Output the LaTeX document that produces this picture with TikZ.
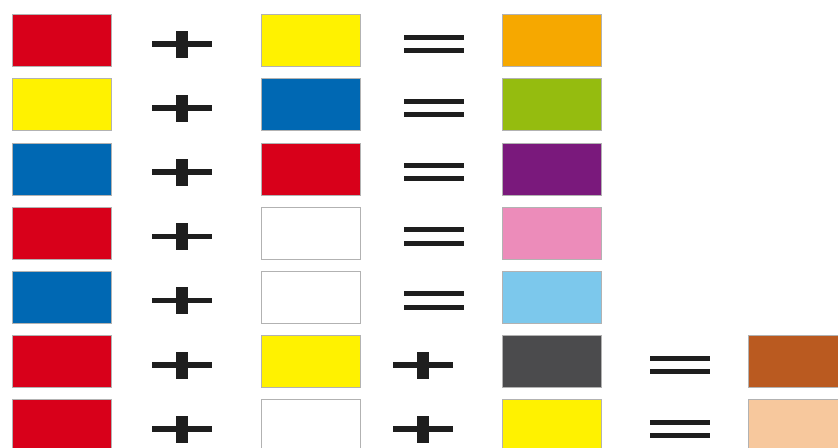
\documentclass[tikz,border=0pt]{standalone}
\usepackage{tikz}
\definecolor{mixred}{HTML}{D8001A}
\definecolor{mixyellow}{HTML}{FFF200}
\definecolor{mixblue}{HTML}{0068B3}
\definecolor{mixorange}{HTML}{F6A800}
\definecolor{mixgreen}{HTML}{95BC0F}
\definecolor{mixpurple}{HTML}{7A197C}
\definecolor{mixpink}{HTML}{EC8CBA}
\definecolor{mixsky}{HTML}{7CC8EC}
\definecolor{mixgray}{HTML}{4B4B4D}
\definecolor{mixbrown}{HTML}{BA5A20}
\definecolor{mixpeach}{HTML}{F7C89D}
\definecolor{signink}{HTML}{1E1E1E}

\begin{document}
\begin{tikzpicture}[x=0.03cm,y=-0.03cm,
  swatch/.style={rectangle,inner sep=0pt,minimum width=2.97cm,minimum height=1.56cm,draw=black!30,line width=0.5pt},
  plussign/.pic={
    \fill[signink] (-30,0.5) rectangle (30,6);
    \fill[signink] (-6,-10) rectangle (6,17);
  },
  equalsign/.pic={
    \fill[signink] (-30,-6) rectangle (30,-1);
    \fill[signink] (-30,7.5) rectangle (30,12.5);
  }]
  \useasboundingbox (0,0) rectangle (838,448);
  % row 1: red + yellow = orange
  \node[swatch,fill=mixred] (a1) at (62,40.5) {};
  \pic at (182,40.5) {plussign};
  \node[swatch,fill=mixyellow] (b1) at (311,40.5) {};
  \pic at (433.5,40.5) {equalsign};
  \node[swatch,fill=mixorange] (c1) at (552,40.5) {};
  % row 2: yellow + blue = green
  \node[swatch,fill=mixyellow] (a2) at (62,104.7) {};
  \pic at (182,104.7) {plussign};
  \node[swatch,fill=mixblue] (b2) at (311,104.7) {};
  \pic at (433.5,104.7) {equalsign};
  \node[swatch,fill=mixgreen] (c2) at (552,104.7) {};
  % row 3: blue + red = purple
  \node[swatch,fill=mixblue] (a3) at (62,168.9) {};
  \pic at (182,168.9) {plussign};
  \node[swatch,fill=mixred] (b3) at (311,168.9) {};
  \pic at (433.5,168.9) {equalsign};
  \node[swatch,fill=mixpurple] (c3) at (552,168.9) {};
  % row 4: red + white = pink
  \node[swatch,fill=mixred] (a4) at (62,233.1) {};
  \pic at (182,233.1) {plussign};
  \node[swatch,fill=white] (b4) at (311,233.1) {};
  \pic at (433.5,233.1) {equalsign};
  \node[swatch,fill=mixpink] (c4) at (552,233.1) {};
  % row 5: blue + white = light blue
  \node[swatch,fill=mixblue] (a5) at (62,297.3) {};
  \pic at (182,297.3) {plussign};
  \node[swatch,fill=white] (b5) at (311,297.3) {};
  \pic at (433.5,297.3) {equalsign};
  \node[swatch,fill=mixsky] (c5) at (552,297.3) {};
  % row 6: red + yellow + gray = brown
  \node[swatch,fill=mixred] (a6) at (62,361.5) {};
  \pic at (182,361.5) {plussign};
  \node[swatch,fill=mixyellow] (b6) at (311,361.5) {};
  \pic at (423,361.5) {plussign};
  \node[swatch,fill=mixgray] (c6) at (552,361.5) {};
  \pic at (680,361.5) {equalsign};
  \node[swatch,fill=mixbrown] (d6) at (798,361.5) {};
  % row 7: red + white + yellow = peach
  \node[swatch,fill=mixred] (a7) at (62,425.7) {};
  \pic at (182,425.7) {plussign};
  \node[swatch,fill=white] (b7) at (311,425.7) {};
  \pic at (423,425.7) {plussign};
  \node[swatch,fill=mixyellow] (c7) at (552,425.7) {};
  \pic at (680,425.7) {equalsign};
  \node[swatch,fill=mixpeach] (d7) at (798,425.7) {};
\end{tikzpicture}
\end{document}
